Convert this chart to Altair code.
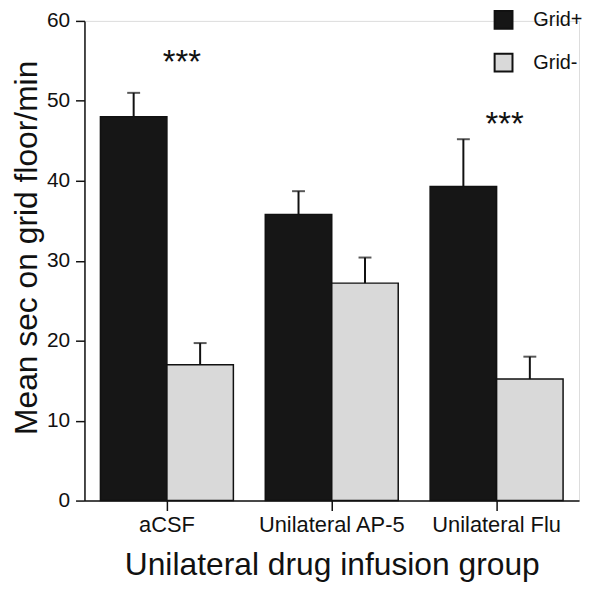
import altair as alt
import pandas as pd

groups = ["aCSF", "Unilateral AP-5", "Unilateral Flu"]
series = ["Grid+", "Grid-"]
grid_plus = [48.0, 35.8, 39.3]
grid_plus_err = [3.0, 2.9, 5.9]
grid_minus = [17.0, 27.2, 15.2]
grid_minus_err = [2.7, 3.2, 2.8]
star_groups = ["aCSF", "Unilateral Flu"]
star_values = [56.7, 49.0]
star_labels = ["***", "***"]

rows = []
for g, v, e in zip(groups, grid_plus, grid_plus_err):
    rows.append({"group": g, "series": "Grid+", "value": v, "top": v + e})
for g, v, e in zip(groups, grid_minus, grid_minus_err):
    rows.append({"group": g, "series": "Grid-", "value": v, "top": v + e})
df = pd.DataFrame(rows)
stars = pd.DataFrame({"group": star_groups, "value": star_values, "label": star_labels})

FONT = "Liberation Sans"
INK = "#111"
xscale = alt.Scale(domain=groups, paddingInner=0, paddingOuter=0)
off_scale = alt.Scale(domain=series, paddingOuter=0.24, paddingInner=0)
yscale = alt.Scale(domain=[0, 60], nice=False)
color = alt.Color(
    "series:N",
    scale=alt.Scale(domain=series, range=["#161616", "#d9d9d9"]),
    legend=alt.Legend(
        title=None, orient="none", legendX=412, legendY=-11,
        symbolType="square", symbolSize=324, symbolStrokeColor=INK,
        symbolStrokeWidth=2, symbolOpacity=1,
        labelFont=FONT, labelFontSize=20, labelColor=INK,
        labelOffset=20, rowPadding=17, labelLimit=200,
    ),
)

base = alt.Chart(df).encode(
    x=alt.X("group:N", scale=xscale, sort=groups,
            axis=alt.Axis(title="Unilateral drug infusion group", labelAngle=0,
                          labelFont=FONT, labelFontSize=22, labelColor=INK,
                          titleFont=FONT, titleFontSize=32, titleFontWeight="normal",
                          titleColor=INK, titlePadding=14, labelPadding=4,
                          tickSize=10, tickColor=INK, domainColor=INK,
                          tickWidth=1.5, domainWidth=1.5)),
    xOffset=alt.XOffset("series:N", scale=off_scale, sort=series),
)

bars = base.mark_bar(stroke=INK, strokeWidth=1.5).encode(
    y=alt.Y("value:Q", scale=yscale,
            axis=alt.Axis(title="Mean sec on  grid floor/min", values=[0, 10, 20, 30, 40, 50, 60],
                          grid=False, labelFont=FONT, labelFontSize=21, labelColor=INK,
                          titleFont=FONT, titleFontSize=32, titleFontWeight="normal",
                          titleColor=INK, titleX=-41, titleY=228, tickSize=9,
                          tickColor=INK, domainColor=INK, tickWidth=1.5,
                          domainWidth=1.5, labelPadding=6)),
    color=color,
)

err = base.mark_rule(color=INK, strokeWidth=2).encode(
    y=alt.Y("value:Q", scale=yscale), y2="top:Q")
caps = base.mark_tick(color=INK, thickness=2, size=13, orient="horizontal").encode(
    y=alt.Y("top:Q", scale=yscale))

star_chart = alt.Chart(stars).encode(
    x=alt.X("group:N", scale=xscale, sort=groups),
    y=alt.Y("value:Q", scale=yscale),
    text="label:N",
)
star1 = star_chart.transform_filter(alt.datum.group == "aCSF").mark_text(
    font=FONT, fontSize=33, color=INK, baseline="top", dx=15)
star2 = star_chart.transform_filter(alt.datum.group == "Unilateral Flu").mark_text(
    font=FONT, fontSize=33, color=INK, baseline="top", dx=8)

chart = alt.layer(bars, err, caps, star1, star2).properties(
    width=498, height=483,
    autosize=alt.AutoSizeParams(type="none"),
    padding={"left": 77, "top": 11, "right": 5, "bottom": 80},
).configure_view(stroke=None).configure(background="white")

chart.save("out.html", embed_options={"renderer": "svg", "actions": False})
